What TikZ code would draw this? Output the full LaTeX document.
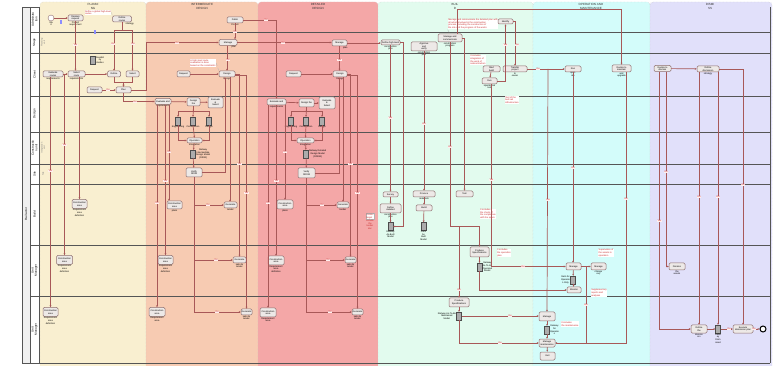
\documentclass[tikz,border=0pt]{standalone}
\usepackage{fontspec}
\setmainfont{Liberation Sans}
\usetikzlibrary{arrows.meta,calc}
\definecolor{cPlan}{HTML}{F9EFD0}
\definecolor{cInt}{HTML}{F7CBB2}
\definecolor{cDet}{HTML}{F4A7A7}
\definecolor{cBld}{HTML}{E2FBEE}
\definecolor{cOpm}{HTML}{D3FCFA}
\definecolor{cDis}{HTML}{E1E0FA}
\definecolor{cFlow}{HTML}{A85858}
\definecolor{cLane}{HTML}{555555}
\definecolor{cTask}{HTML}{EDE9E7}
\definecolor{cTaskB}{HTML}{8E6F6F}
\definecolor{cAnn}{HTML}{C62828}
\newcommand{\fs}{\fontsize{2.3}{2.6}\selectfont}
\newcommand{\lb}[3]{\node[lbl] (#1) at (#2) {#3};}
\tikzset{
 task/.style={draw=cTaskB, fill=cTask, rounded corners=1.2pt, line width=0.5pt, minimum width=16pt, minimum height=6pt, inner sep=0.3pt, font=\fs, align=center},
 w/.style={minimum width=#1},
 h/.style={minimum height=#1},
 doc/.style={draw=gray!60!black, fill=gray!65, minimum width=5pt, minimum height=8pt, inner sep=0pt, line width=0.3pt},
 flow/.style={draw=cFlow, line width=0.7pt, -{Stealth[length=2pt,width=1.8pt]}},
 plain/.style={draw=cFlow, line width=0.7pt},
 lbl/.style={font=\fs, text=cAnn, fill=white!75!pink, inner sep=0.3pt},
 ann/.style={font=\fs, text=cAnn, fill=white, inner sep=0.5pt, align=left},
 sub/.style={font=\fs, text=black, inner sep=0.2pt, align=center},
 lanel/.style={font=\fontsize{3}{3.4}\selectfont, rotate=90, align=center},
 lanes/.style={font=\fs, text=gray, rotate=90, align=center},
 phase/.style={font=\fontsize{3}{3.4}\selectfont, text=black!80, align=center},
 col/.style={draw=gray!45, densely dotted, line width=0.4pt, rounded corners=3pt},
 assoc/.style={draw=gray!60, densely dashed, line width=0.3pt},
 msg/.style={fill=blue!45, minimum width=2pt, minimum height=4pt, inner sep=0pt}
}
\begin{document}
\begin{tikzpicture}[x=1pt,y=-1pt]
\useasboundingbox (0,0) rectangle (777,366);
% ---------- phase columns ----------
\path[col,fill=cPlan] (40,2) rectangle (146,372);
\path[col,fill=cInt] (146,2) rectangle (258,372);
\path[col,fill=cDet] (258,2) rectangle (378,372);
\path[col,fill=cBld] (378,2) rectangle (533,372);
\path[col,fill=cOpm] (533,2) rectangle (650,372);
\path[col,fill=cDis] (650,2) rectangle (772,372);
\node[phase] (hP) at (93,6.5) {PLANNI\\NG};
\node[phase] (hI) at (202,6.5) {INTERMEDIATE\\DESIGN};
\node[phase] (hD) at (318,6.5) {DETAILED\\DESIGN};
\node[phase] (hB) at (455,6.5) {BUIL\\D};
\node[phase] (hO) at (591,6.5) {OPERATION AND\\MAINTENANCE};
\node[phase] (hS) at (710,6.5) {DISMI\\SS};
% ---------- pool and lanes ----------
\draw[cLane, line width=0.6pt, fill=gray!12] (22,7) rectangle (30,363);
\draw[cLane, line width=0.6pt, fill=white] (30,7) rectangle (39,363);
\draw[cLane, line width=0.8pt] (770,7) -- (770,363);
\draw[cLane, line width=0.6pt] (39,363) -- (770,363);
\foreach \yy in {32,53,96,132,164,184,245,296} \draw[cLane,line width=0.6pt] (30,\yy) -- (770,\yy);
\node[lanel] (pool) at (26,214) {Rail actor};
\node[lanel] (L1) at (34.5,19.5) {Administra\\tion};
\node[lanel] (L2) at (34.5,42.5) {Stage};
\node[lanel] (L3) at (34.5,74.5) {Client};
\node[lanel] (L4) at (34.5,114) {Design};
\node[lanel] (L5) at (34.5,148) {Constructio\\n unit};
\node[lanel] (L6) at (34.5,174) {Site};
\node[lanel] (L7) at (34.5,214.5) {Build};
\node[lanel] (L8) at (34.5,270.5) {Unit\\Manager};
\node[lanel] (L9) at (34.5,329.5) {Unit\\Manager};
\node[lanes] (S2) at (43,42.5) {Planning\\unit};
\node[lanes] (S5) at (43,148) {Integration\\unit};
\node[lanes] (S6) at (43,174) {Site};
% ---------- PLANNING ----------
\node[circle,draw=cTaskB,fill=white,minimum size=6pt,inner sep=0pt,label={[sub]below:{Sta\\rt}}] (st) at (51,18) {};
\node[msg] (m1) at (61,22) {};
\node[task,w=15pt,label={[sub]below:{Project\\requirement\\s}}] (recv) at (75.5,18) {Receive\\request};
\node[task,w=19pt,label={[sub]below right:{strategy}}] (defP) at (122,19) {Define\\routes};
\node[ann] (annP) at (98,12.5) {Define a global high-level\\routes};
\node[msg] (m2) at (95,32) {};
\node[doc,label={[sub]right:{Feasibil\\ity\\studies}}] (feas) at (93,60) {};
\node[task,w=20pt,label={[sub]below:{requirements}}] (evalP) at (53,74) {Evaluate\\routes};
\node[task,w=17pt,label={[sub]below:{requirements}}] (selP) at (76.5,74) {Select\\route};
\node[task,w=13pt] (defP2) at (114,74) {Define};
\node[task,w=13pt] (selP2) at (132.5,74) {Select};
\node[task,w=15pt] (reqP) at (94.5,90) {Request};
\node[task,w=15pt] (planP) at (123.5,90) {Plan};
\node[task,w=15pt,h=9pt,label={[sub]below:{Requirement\\area\\definition}}] (caP) at (79.5,204) {Construction\\area};
\node[task,w=16pt,h=9pt,label={[sub]below:{Requirement\\area\\definition}}] (u1P) at (64.5,260) {Construction\\area};
\node[task,w=15pt,h=9pt,label={[sub]below:{Requirement\\area\\definition}}] (u2P) at (50.5,312) {Construction\\area};
\coordinate (j1) at (64.5,74);
\coordinate (jP) at (146,90);
% ---------- INTERMEDIATE ----------
\node[task,w=16pt,label={[sub]below:{Project}}] (pubI) at (235,20) {Public};
\node[task,w=18pt,label={[sub]below right:{plan}}] (manI) at (228,42.5) {Manage};
\node[ann] (annI) at (203,63) {A high-level route\\evaluation is done\\based on the constraints};
\node[task,w=13pt] (reqI) at (183.5,74) {Request};
\node[task,w=16pt,label={[sub]below:{Design}}] (desI) at (227,74) {Design};
\node[task,w=16pt,label={[sub]below:{requirements}}] (evaI) at (163,101.5) {Evaluate and};
\node[task,w=13pt,h=8pt] (dtI) at (193.5,102) {Design\\the};
\node[task,w=15pt,h=11pt] (ev2I) at (215.5,102.5) {Evaluate\\\&\\Select};
\node[doc,label={[sub]below:{Engineering}}] (dI1) at (178,121) {};
\node[doc,label={[sub]below:{Construction}}] (dI2) at (193,121) {};
\node[doc,label={[sub]below:{Design}}] (dI3) at (209,121) {};
\node[task,w=15pt,h=5pt,label={[sub]below:{Integration}}] (opI) at (194.5,140.5) {Operation};
\node[doc,label={[sub]right:{Railway\\Intermediate\\Design Model\\(RIDM)}}] (ridmI) at (193,154) {};
\node[task,w=16pt,h=9pt] (verI) at (194,172.5) {Verify\\RIDM};
\node[task,w=15pt,h=8pt,label={[sub]below:{plans}}] (caI) at (174.5,205) {Construction\\area};
\node[task,w=13pt,label={[sub]below:{tender}}] (genI) at (230.5,205) {Generate};
\node[task,w=15pt,h=9pt,label={[sub]below:{Requirement\\area\\definition}}] (u1I) at (165.5,260) {Construction\\area};
\node[task,w=13pt,label={[sub]below:{sale de\\tender}}] (gen2I) at (239.5,260) {Generate};
\node[task,w=16pt,h=9pt,label={[sub]below:{Requirement\\area}}] (u2I) at (157,312) {Construction\\area};
\node[task,w=11pt,label={[sub]below:{sale de\\tender}}] (gen3I) at (246.5,312) {Generate};
% ---------- DETAILED ----------
\node[task,w=15pt,label={[sub]below right:{plan}}] (manD) at (339.5,43) {Manage};
\node[task,w=15pt] (reqD) at (293.5,74) {Request};
\node[task,w=14pt,label={[sub]below:{Design}}] (desD) at (340,74) {Design};
\node[task,w=19pt,label={[sub]below:{requirements}}] (evaD) at (276.5,102) {Evaluate and};
\node[task,w=15pt,h=8pt] (dtD) at (306.5,103) {Design the};
\node[task,w=16pt,h=12pt] (ev2D) at (327,103) {Evaluate\\\&\\Select};
\node[doc,label={[sub]below:{Engineering}}] (dD1) at (291,121) {};
\node[doc,label={[sub]below:{Construction}}] (dD2) at (306,121) {};
\node[doc,label={[sub]below:{Design}}] (dD3) at (322,121) {};
\node[task,w=17pt,h=5pt,label={[sub]below:{Integration}}] (opD) at (305.5,140.5) {Operation};
\node[doc,label={[sub]right:{Railway Detailed\\Design Model\\(RDDM)}}] (rddmD) at (306,154) {};
\node[task,w=17pt,h=10pt] (verD) at (306.5,173) {Verify\\RDDM};
\node[task,w=16pt,h=9pt,label={[sub]below:{plans}}] (caD) at (285,204.5) {Construction\\area};
\node[task,w=12pt,label={[sub]below:{tender}}] (genD) at (343,205) {Generate};
\node[task,w=16pt,h=9pt,label={[sub]below:{Requirement\\area\\definition}}] (u1D) at (276,260.5) {Construction\\area};
\node[task,w=11pt,label={[sub]below:{sale de\\tender}}] (gen2D) at (350.5,260) {Generate};
\node[task,w=16pt,h=9pt,label={[sub]below:{Requirement\\area}}] (u2D) at (268,312.5) {Construction\\area};
\node[task,w=11pt,label={[sub]below:{sale de\\tender}}] (gen3D) at (357.5,312) {Generate};
\node[ann,draw=gray!60,label={[sub,text=cAnn]below:{Include\\the\\tender\\doc}}] (annD) at (370,216.5) {Tender\\target};
% ---------- BUILD ----------
\node[task,w=19pt,h=5pt,label={[sub]below:{construction\\plan}}] (dhlB) at (390.5,42.5) {Define high-level};
\node[task,w=26pt,h=9pt,label={[sub]below:{construction\\plan}}] (appB) at (424,46.5) {Approve\\and\\verify};
\node[task,w=24pt,h=8pt,label={[sub]below:{construction\\progress}}] (mcB) at (450,38) {Manage and\\communicate};
\node[ann] (annB1) at (473,24) {Manage and communicate the detailed plan with\\all actors involved in the construction\\process, including the construction of\\the site and the progress of the works};
\node[task,w=15pt,h=5pt] (idB) at (505.5,21.5) {Identify};
\node[ann] (annB2) at (478,60) {It includes\\integration of\\the work of\\subcontractors};
\node[task,w=17pt] (sbB) at (491.5,69) {Start\\build};
\node[task,w=15pt,label={[sub]below:{operational\\test}}] (runB) at (489.5,81) {Run};
\node[task,w=24pt,label={[sub]below:{to\\owner}}] (trB) at (515,69) {Transfer\\project};
\node[ann] (annB3) at (512,100) {Test of the\\built rail\\infrastructure};
\node[task,w=15pt,h=5pt] (survB) at (390.5,194.5) {Survey};
\node[task,w=21pt,h=9pt,label={[sub]below:{construction\\plan}}] (dcpB) at (390.5,208.5) {Define\\detailed};
\node[task,w=22pt,label={[sub]below:{materials}}] (procB) at (424,194) {Procure};
\node[task,w=16pt] (buildB) at (424,208) {Build};
\node[task,w=17pt] (testB) at (464.5,194) {Test};
\node[ann] (annB4) at (488,214) {It includes\\the check of\\the compliance\\with the specs};
\node[doc,label={[sub]below:{Railway\\As-Built\\Model}}] (docB1) at (390.5,226.5) {};
\node[doc,label={[sub]below:{Parts\\As\\Built\\Model}}] (docB2) at (423.5,226.5) {};
\node[task,w=19pt,h=10pt] (ps1B) at (479.5,252) {Produce\\Specifications};
\node[doc,label={[sub]right:{Railway\\As-To-Be\\Operated\\Model}}] (docPs1) at (479.5,267) {};
\node[ann] (annB5) at (504,253) {It includes\\the operation\\plan};
\node[task,w=20pt,h=9pt] (ps2B) at (459,302.5) {Produce\\Specifications};
\node[doc,label={[sub]left:{Railway As-To-Be\\Maintained\\Model}}] (docPs2) at (459,316) {};
\coordinate (jB) at (450,226);
\coordinate (topB) at (457,9);
\coordinate (jO) at (548,69);
\coordinate (jO2) at (586,343);
\coordinate (jR) at (491.5,84);
% ---------- OPERATION ----------
\node[task,w=16pt,label={[sub]below:{oper-\\ate}}] (runO) at (573,69) {Run};
\node[task,w=19pt,h=7pt,label={[sub]below:{and\\upgrade}}] (decO) at (621.5,68.5) {Decide to\\maintain};
\node[task,w=15pt,h=7pt] (m1O) at (573.5,266.5) {Manage};
\node[doc,label={[sub]left:{Rails for\\Operatio\\n Only}}] (docO1) at (573,280) {};
\node[task,w=14pt] (monO) at (574,290) {Monitor};
\node[task,w=15pt,h=7pt,label={[sub]below:{change\\req.}}] (m3O) at (598.5,266.5) {Manage};
\node[ann] (annO1) at (606,253) {Supervision of\\the assets in\\operation};
\node[ann] (annO2) at (599,293) {Supplementary\\reports and\\analyses};
\node[task,w=16pt,h=9pt] (m2O) at (547,316.5) {Manage};
\node[doc,label={[sub]right:{Railway\\for\\Operatio\\n}}] (docO2) at (547,330) {};
\node[ann] (annO3) at (570,324) {It includes\\the maintenance};
\node[task,w=16pt,h=8pt] (m4O) at (547,343) {Manage\\maintenance};
\node[task,w=15pt,h=8pt] (exO) at (547.5,356) {Exit};
% ---------- DISMISS ----------
\node[task,w=17pt] (decD) at (662.5,68.5) {Decide to\\dismiss};
\node[task,w=22pt,label={[sub]below:{strategy}}] (defDs) at (708,69) {Define\\dismission};
\node[task,w=16pt,h=7pt,label={[sub]below:{the\\assets}}] (disD) at (677,266.5) {Dismiss};
\node[task,w=16pt,h=8pt,label={[sub]below:{dismiss\\ion}}] (n2D) at (699,329) {Define\\the};
\node[doc,label={[sub]below:{Railw\\ay\\Dism\\issed}}] (docD) at (718,329) {};
\node[task,w=20pt,h=8pt] (exD) at (743,329) {Execute\\dismission plan};
\node[circle,draw=black,line width=1pt,fill=white,minimum size=6pt,inner sep=0pt] (endD) at (763,329) {};
% =========== CONNECTORS ===========
\draw[assoc] (annP.east) -- (defP.north west);
\draw[assoc] (annI.east) -- (desI.north west);
\draw[assoc] (annB1.south west) -- (mcB.north);
% planning
\draw[flow] (st) -- (recv);
\draw[flow] (recv.south) -- (recv.south |- selP.north);
\draw[flow] (defP.south) -- ++(0,8) -| (defP2.north);
\draw[flow] (defP.south) -- ++(0,8) -| (selP2.north);
\draw[flow] (evalP) -- (selP);
\draw[flow] (selP) -- (defP2);
\draw[flow] (reqP) -- (planP);
\draw[flow] (defP2.south) -- ++(0,5) -| (planP.north);
\draw[flow] (selP2.south) -- ++(0,5) -| (planP.north);
\draw[flow] (planP.south) |- (evaI.west);
\draw[flow] (planP.east) -- (jP) |- (manI.west);
\draw[flow] (evalP.south -| u2P) -- (u2P.north);
\draw[flow] (j1) -- (u1P.north);
\draw[flow] (selP.south -| caP) -- (caP.north);
% intermediate
\draw[flow] (pubI.south) -- (pubI.south |- manI.north);
\draw[flow] (manI.south -| desI) -- (desI.north);
\draw[flow] (reqI) -- (desI);
\draw[flow] (verI.east) -| ([xshift=-2pt]desI.south);
\draw[flow] ([xshift=3pt]desI.south) -- ([xshift=3pt]desI.south |- genI.north);
\draw[flow] (desI.east) -| (gen2I.north);
\draw[flow] ([yshift=-1.5pt]desI.east) -| (gen3I.north);
\draw[flow] (evaI) -- (dtI);
\draw[flow] (dtI) -- (ev2I);
\draw[flow] (evaI.south -| u2I) -- (u2I.north);
\draw[flow] (evaI.south -| u1I) -- (u1I.north);
\draw[flow] ([xshift=6pt]evaI.south) -- ([xshift=6pt]evaI.south |- caI.north);
\draw[flow] (dtI.south) -- (dI2.north);
\draw[flow] (dtI.south) -- ++(0,5) -| (dI1.north);
\draw[flow] (dtI.south) -- ++(0,5) -| (dI3.north);
\draw[flow] (dI1.south) |- (opI.west);
\draw[flow] (dI3.south) |- (opI.east);
\draw[flow] (dI2.south) -- (opI.north);
\draw[flow] (opI) -- (ridmI);
\draw[flow] (ridmI) -- (verI);
\draw[flow] (verI.south) |- (genI.west);
\draw[flow] (verI.south) |- (gen2I.west);
\draw[flow] (verI.south) |- (gen3I.west);
\draw[flow] (manI.east) -- (manI.east -| manD.west);
\draw[flow] (pubI.east) -| (evaD.north);
% detailed
\draw[flow] (reqD) -- (desD);
\draw[flow] (manD.south) -- (manD.south |- desD.north);
\draw[flow] (verD.east) -| ([xshift=-1pt]desD.south);
\draw[flow] ([xshift=3pt]desD.south) -- ([xshift=3pt]desD.south |- genD.north);
\draw[flow] (desD.east) -| (gen2D.north);
\draw[flow] ([yshift=-1.5pt]desD.east) -| (gen3D.north);
\draw[flow] (evaD.south -| u2D) -- (u2D.north);
\draw[flow] (evaD.south -| u1D) -- (u1D.north);
\draw[flow] (evaD.south -| caD) -- (caD.north);
\draw[flow] (evaD) -- (dtD);
\draw[flow] (dtD) -- (ev2D);
\draw[flow] (dtD.south) -- (dD2.north);
\draw[flow] (dtD.south) -- ++(0,4) -| (dD1.north);
\draw[flow] (dtD.south) -- ++(0,4) -| (dD3.north);
\draw[flow] (dD1.south) |- (opD.west);
\draw[flow] (dD3.south) |- (opD.east);
\draw[flow] (dD2.south) -- (opD.north);
\draw[flow] (opD) -- (rddmD);
\draw[flow] (rddmD) -- (verD);
\draw[flow] (verD.south) |- (genD.west);
\draw[flow] (verD.south) |- (gen2D.west);
\draw[flow] (verD.south) |- (gen3D.west);
\draw[flow] (manD.east) -- (manD.east -| dhlB.west);
% build
\draw[flow] (dhlB.south) -- (survB.north);
\draw[flow] (dhlB.east) -- ++(3,0) |- (docB1.east);
\draw[flow] (appB.south -| procB) -- (procB.north);
\draw[plain] (mcB.south) -- (jB);
\draw[flow] (jB) -| (ps1B.north);
\draw[flow] (jB) -| (ps2B.north);
\draw[flow] (mcB.east) -| (testB.north);
\draw[flow] (jR) |- (m1O.west);
\draw[flow] (runB.east) -| (idB.south);
\draw[flow] (idB.east) -| (trB.north);
\draw[flow] (sbB) -- (runB);
\draw[flow] ([xshift=7pt]mcB.north) -- (topB) -| (decO.north);
\draw[flow] (survB) -- (dcpB);
\draw[flow] (procB) -- (buildB);
\draw[flow] (dcpB) -- (docB1);
\draw[flow] (buildB) -- (docB2);
\draw[flow] (ps1B) -- (docPs1);
\draw[flow] (docPs1.south) |- (monO.west);
\draw[flow] (ps2B) -- (docPs2);
\draw[flow] (docPs2.east) -- (docPs2.east -| m2O.west);
\draw[flow] (docPs2.south) |- (m4O.west);
\draw[flow] (trB.east) -- (runO.west);
\draw[flow] (jO) -- (m2O.north);
% operation
\draw[flow] (runO.south) -- (runO.south |- m1O.north);
\draw[flow] ([xshift=4.5pt]decO.south) |- (m4O.east);
\draw[flow] (m1O) -- (m3O);
\draw[plain] (jO2) -- (jO2 |- m3O.west);
\draw[flow] (m1O) -- (docO1);
\draw[flow] (docO1) -- (monO);
\draw[flow] (m2O) -- (docO2);
\draw[flow] (docO2) -- (m4O);
\draw[flow] (m4O) -- (exO);
% dismiss
\draw[flow] (decD) -- (defDs);
\draw[flow] ([xshift=-3pt]decD.south) |- (n2D.west);
\draw[flow] ([xshift=3.5pt]decD.south) |- (disD.west);
\draw[flow] (defDs.south -| n2D) -- (n2D.north);
\draw[flow] (defDs.south -| docD) -- (docD.north);
\draw[flow] (defDs.east) -| (exD.north);
\draw[flow] (n2D) -- (docD);
\draw[flow] (docD) -- (exD);
\draw[flow] (exD) -- (endD);
% ---------- connector labels ----------
\lb{a1}{75.5,45}{Yes}
\lb{a2}{113,44}{Yes}
\lb{a3}{133,44}{Yes}
\lb{a4}{108,90}{Yes}
\lb{a5}{135,102}{Yes}
\lb{a6}{177,43}{Yes}
\lb{a7}{235,32}{Yes}
\lb{a8}{228,60}{Yes}
\lb{a9}{266,20}{Yes}
\lb{a10}{283,43}{Yes}
\lb{a11}{339.5,60}{Yes}
\lb{a12}{208,205}{Yes}
\lb{a13}{322,205}{Yes}
\lb{a14}{216,260}{Yes}
\lb{a15}{217,312}{Yes}
\lb{a16}{328,260}{Yes}
\lb{a17}{330,312}{Yes}
\lb{a18}{50.5,171}{Yes}
\lb{a19}{64.5,145}{Yes}
\lb{a20}{165.5,181}{Yes}
\lb{a21}{157,203}{Yes}
\lb{a22}{169,152}{Yes}
\lb{a23}{239.5,164}{Yes}
\lb{a24}{246.5,193}{Yes}
\lb{a25}{276.5,181}{Yes}
\lb{a26}{268,203}{Yes}
\lb{a27}{285,152}{Yes}
\lb{a28}{350.5,164}{Yes}
\lb{a29}{357.5,193}{Yes}
\lb{a30}{390.5,118}{Yes}
\lb{a31}{424,124}{Yes}
\lb{a32}{450,147}{Yes}
\lb{a33}{491.5,180}{Yes}
\lb{a34}{505.5,45}{Yes}
\lb{a35}{517,45}{Yes}
\lb{a36}{538,69}{Yes}
\lb{a37}{573,168}{Yes}
\lb{a38}{523,266.5}{Yes}
\lb{a39}{626,199}{Yes}
\lb{a40}{548,200}{Yes}
\lb{a41}{659.5,221}{Yes}
\lb{a42}{666,172}{Yes}
\lb{a43}{699,197}{Yes}
\lb{a44}{718,197}{Yes}
\lb{a45}{743,185}{Yes}
\lb{a46}{586,305}{Yes}
\lb{a47}{459,290}{Yes}
\lb{a48}{500,343}{Yes}
\lb{a49}{510,316}{Yes}
\lb{a50}{729,329}{Yes}
\lb{a51}{754,329}{Yes}
\end{tikzpicture}
\end{document}
